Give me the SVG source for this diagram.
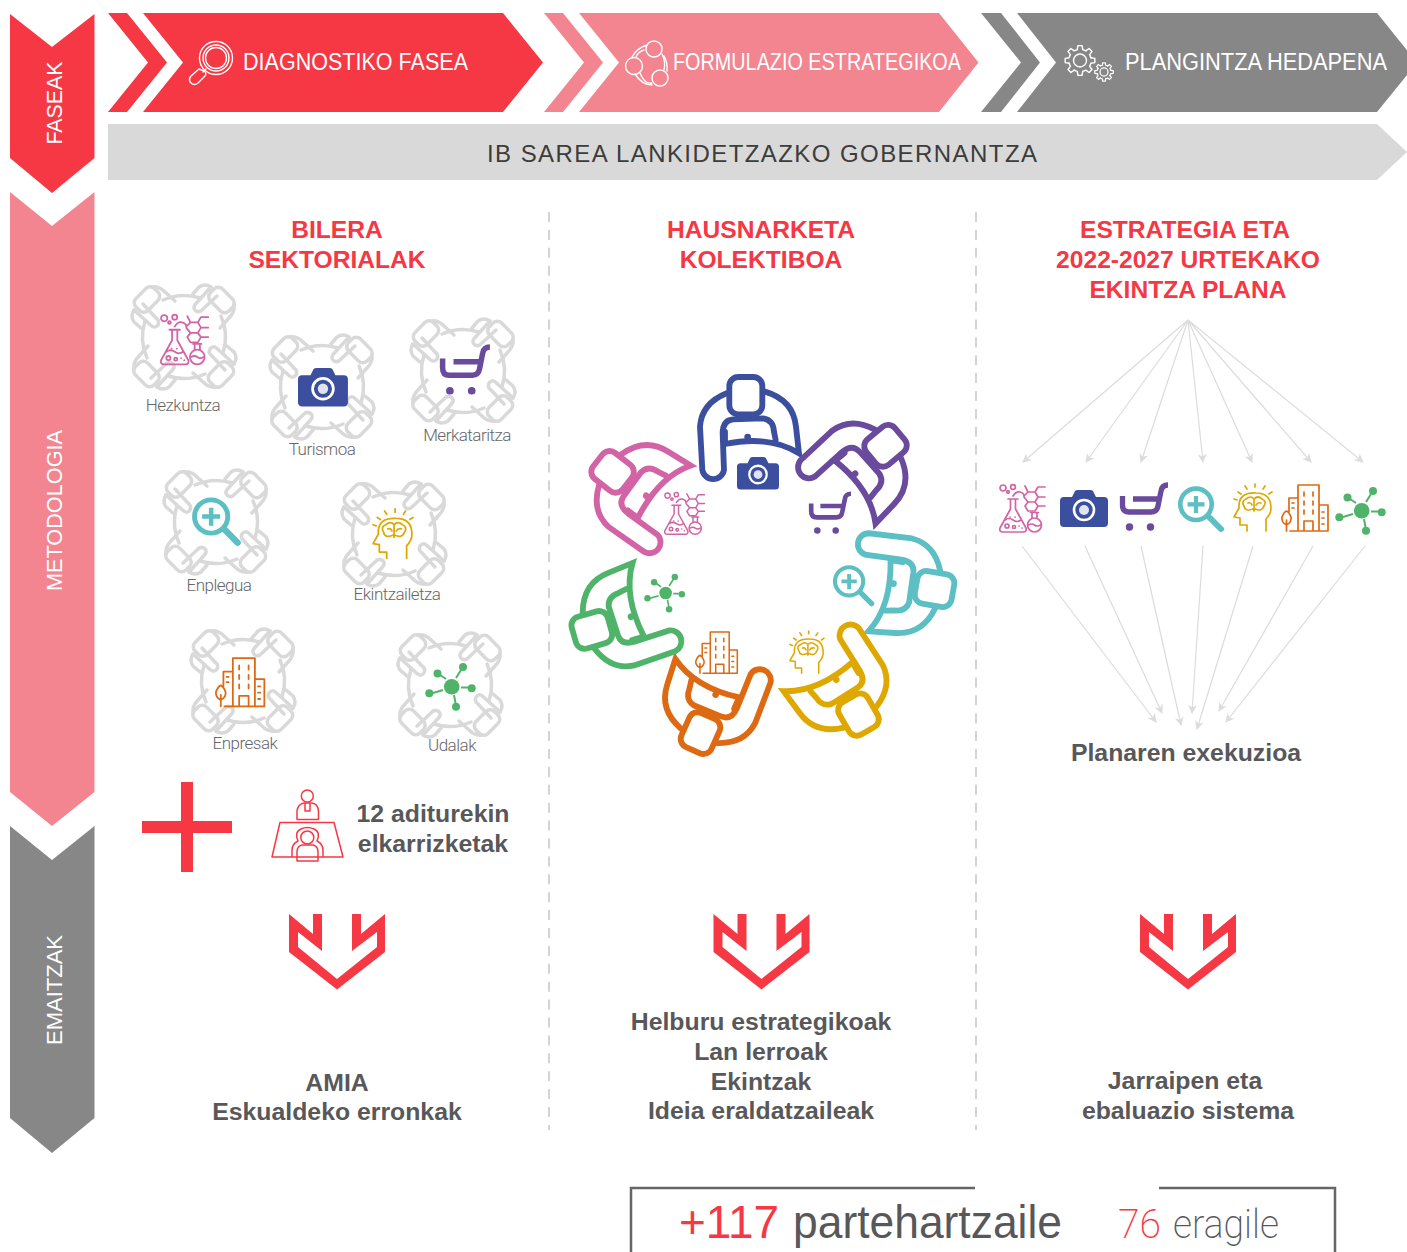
<svg xmlns="http://www.w3.org/2000/svg" xmlns:xlink="http://www.w3.org/1999/xlink" width="1407" height="1252" viewBox="0 0 1407 1252">
<style>
text{font-family:"Liberation Sans",Arial,sans-serif}
.ph{fill:#fff;font-size:23.5px}
.side{fill:#fff;font-size:22.5px;text-anchor:middle}
.hd{fill:#f63744;font-size:24.6px;font-weight:bold;text-anchor:middle}
.bd{fill:#58585a;font-size:24.8px;font-weight:bold;text-anchor:middle}
.lb{fill:#666;font-size:17px;letter-spacing:-.5px;text-anchor:middle;font-family:"Roboto","Liberation Sans",sans-serif;font-weight:300}
.th{fill:none;stroke:currentColor;stroke-width:1.7;stroke-linecap:round;stroke-linejoin:round}
.wl{fill:none;stroke:#fff;stroke-width:1.4;stroke-linejoin:round;stroke-linecap:round}
.kn{fill:none;stroke:#d9d9d9;stroke-width:3.5;stroke-linecap:round;stroke-linejoin:round}
.hl{fill:none;stroke:currentColor;stroke-width:17.5;stroke-linecap:round;stroke-linejoin:miter}
.fan{stroke:#dcdcdc;stroke-width:1.2;fill:none;marker-end:url(#ah)}
.dash{stroke:#d4d4d4;stroke-width:2;stroke-dasharray:10 7.9}
</style>
<defs>
<marker id="ah" viewBox="-9 -5 11 10" refX="0" refY="0" markerWidth="11" markerHeight="10" markerUnits="userSpaceOnUse" orient="auto"><path d="M-8,-4.5 L1,0 L-8,4.5 L-5.5,0z" fill="#dcdcdc"/></marker>
<g id="flask"><g class="th">
<path d="M9,15H19M11.5,15V25L1,44Q0,48 4,48H24Q28,48 27,44L16.5,25V15M6,36Q10,33 14,36T22,36"/>
<circle cx="8" cy="42" r="2"/><circle cx="15" cy="43" r="1.5"/><path d="M11,33h.1M16,33h.1M20,42h.1M23,44h.1"/>
<circle cx="35.5" cy="41" r="7"/><path d="M33,34V29M38,34V29M31.5,28.5H39.5M29.5,41Q33,39 35.5,41T41.5,41"/>
<circle cx="4" cy="4" r="3"/><circle cx="14" cy="3" r="2.4"/><circle cx="9" cy="8" r="1.3"/>
<path d="M14,12Q17,7 21,8T25,12L29,8H36L39,13L36,18H29L25,13M29,18L26,22L29,27H36L39,22L36,18M36,8L39,3H46M39,13H46M39,22H46M29,8L26,2"/>
</g></g>
<g id="camera"><path fill="currentColor" d="M4,7H12L15,1Q16,0 18,0H30Q32,0 33,1L36,7H44Q48,7 48,11V33Q48,37 44,37H4Q0,37 0,33V11Q0,7 4,7z"/><circle cx="24" cy="20" r="10" fill="none" stroke="#fff" stroke-width="2.6"/><circle cx="24" cy="20" r="5" fill="#dfe3f2"/></g>
<g id="cart"><path fill="none" stroke="currentColor" stroke-width="5.300" stroke-linecap="butt" d="M48,2Q42,2 41,8L38,23Q37,29 31,29H9Q2.500,29 2.500,22V13M13,16H40"/><circle cx="9.500" cy="44" r="3.700" fill="currentColor"/><circle cx="30.500" cy="44" r="3.700" fill="currentColor"/></g>
<g id="lens"><g fill="none" stroke="currentColor" stroke-linecap="round"><circle cx="19" cy="19.3" r="15.7" stroke-width="4.6"/><path stroke-width="4.2" stroke-linecap="butt" d="M19,11V28M10.5,19.4H27.5"/><path stroke-width="6" d="M31,31L44,44"/></g></g>
<g id="head"><g class="th"><path d="M14,47V41H7V34L1,33L6,24Q5,8 23,9Q38,9 38,24Q38,30 33,35V47"/>
<path d="M20,25Q12,28 11,22Q8,17 13,15Q18,11 21,15Q25,11 29,15Q34,17 31,22Q29,28 22,25M21,15V27M15,19Q18,18 19,21M28,19Q25,18 23,21"/>
<path d="M22,0V3M12,2L14,5M32,2L30,5M5,8L8,10M39,8L36,10M1,15L4,16"/></g></g>
<g id="building"><g class="th" stroke-width="1.8"><path d="M17,47V1H38V47M17,14H8V28M38,21H47V47H9M23,47V37H32V47"/><path d="M23,8V12M32,8V12M23,17V21M32,17V21M23,26V30M32,26V30M11,19h2M11,24h2M41,28h2M41,34h2M41,40h2"/><path d="M5.5,47V36M5.5,41Q0,38 1,33Q3,28 5.5,27Q8,28 10,33Q11,38 5.5,41z"/></g></g>
<g id="network"><g fill="currentColor"><circle cx="26.7" cy="24.7" r="7.8"/><circle cx="38" cy="5" r="4"/><circle cx="12.5" cy="11.5" r="4"/><circle cx="46.7" cy="26.3" r="4"/><circle cx="4.3" cy="31.3" r="4"/><circle cx="31" cy="44.7" r="4"/></g><path fill="none" stroke="currentColor" stroke-width="2" d="M31,16L36,8M21,17L15,13M36,25.5H43M18,28L8,31M29,33L30.5,41"/></g>
<g id="kc"><g class="kn">
<rect x="-50" y="-46" width="26" height="17" rx="6" transform="rotate(-45 -37 -37.500)"/>
<path d="M-50,-27L-33,-11.500Q-29,-8 -26,-12Q-24,-16 -28,-19L-41,-33"/>
<path d="M-32,-50Q-25,-51 -19,-45L-9,-36"/>
<path d="M-50,-27Q-54,-21 -50,-15L-43,-9"/>
<path d="M-21,-37Q-3,-45 16,-39"/>
</g></g>
<g id="knot"><use href="#kc"/><use href="#kc" transform="rotate(90)"/><use href="#kc" transform="rotate(180)"/><use href="#kc" transform="rotate(270)"/></g>
<g id="hand"><g class="hl"><path d="M470,70Q395,100 390,170L397,300A33,33 0 0 0 462,300L458,190Q458,150 490,148L580,145Q610,150 612,185L617,210"/><rect x="478" y="21" width="99" height="112" rx="27"/><path d="M585,65Q670,90 678,170L687,250Q600,195 465,222V185"/></g><circle cx="533" cy="201" r="10" fill="currentColor"/></g>
<polygon id="dbl" fill="#f63744" points="289,914 313,934 313,914 322,914 322,951 298,932 298,947 337,979 377,947 377,932 352,951 352,914 361,914 361,934 385,914 385,952 337,989.500 289,952"/>
<path id="tooth" d="M10.9,-2.700L14.850,-2.100V2.100L10.900,2.700A11.250,11.250 0 0 1 9.600,5.800"/>
<g id="gear"><use href="#tooth"/><use href="#tooth" transform="rotate(45)"/><use href="#tooth" transform="rotate(90)"/><use href="#tooth" transform="rotate(135)"/><use href="#tooth" transform="rotate(180)"/><use href="#tooth" transform="rotate(225)"/><use href="#tooth" transform="rotate(270)"/><use href="#tooth" transform="rotate(315)"/><circle r="6.500"/></g>
</defs>

<g id="phase-side">
<polygon fill="#f63744" points="10,14 52,47 94.500,14 94.500,158 52,193 10,158"/>
<text class="side" transform="translate(62,103) rotate(-90)" textLength="83" lengthAdjust="spacingAndGlyphs">FASEAK</text>
<polygon fill="#f2858f" points="10,192 52,226 94.500,192 94.500,792 52,826 10,792"/>
<text class="side" transform="translate(62,510.500) rotate(-90)" textLength="161" lengthAdjust="spacingAndGlyphs">METODOLOGIA</text>
<polygon fill="#878787" points="10,826 52,860 94.500,826 94.500,1118 52,1153 10,1118"/>
<text class="side" transform="translate(62,990) rotate(-90)" textLength="110" lengthAdjust="spacingAndGlyphs">EMAITZAK</text>
</g>

<g id="phase-diagnostiko">
<polygon fill="#f63744" points="108,13 127,13 167,62.500 127,112 108,112 148,62.500"/>
<polygon fill="#f63744" points="143,13 503,13 543,62.500 503,112 143,112 183,62.500"/>
<g class="wl"><circle cx="216" cy="58" r="16.500"/><circle cx="216" cy="58" r="13"/><circle cx="216" cy="58" r="10.500"/><path d="M206,69L203,72"/><path d="M199,69L191,76Q188,80 191,83Q194,86 198,83L205,76Q207,73 204,71Z"/></g>
<text class="ph" x="243" y="70" textLength="225" lengthAdjust="spacingAndGlyphs">DIAGNOSTIKO FASEA</text>
</g>
<g id="phase-formulazio">
<polygon fill="#f2858f" points="544,13 563,13 603,62.500 563,112 544,112 584,62.500"/>
<polygon fill="#f2858f" points="579,13 939,13 978.500,62.500 939,112 579,112 619,62.500"/>
<g class="wl"><circle cx="654" cy="49" r="8"/><circle cx="634" cy="66" r="8.500"/><circle cx="660" cy="78" r="8"/><path d="M647,45Q637,48 632,57M644,50Q638,52 636,57M640,73Q645,85 652,83M635,74Q642,85 652,85M664,56Q668,63 667,71M662,54Q666,62 664,70"/></g>
<text class="ph" x="673" y="70" textLength="288" lengthAdjust="spacingAndGlyphs">FORMULAZIO ESTRATEGIKOA</text>
</g>
<g id="phase-plangintza">
<polygon fill="#878787" points="981,13 1001,13 1040,62.500 1001,112 981,112 1021,62.500"/>
<polygon fill="#878787" points="1017,13 1377,13 1417,62.500 1377,112 1017,112 1056,62.500"/>
<use href="#gear" class="wl" transform="translate(1080,60.500)"/>
<use href="#gear" class="wl" transform="translate(1104,72) scale(.62)" style="stroke-width:2"/>
<text class="ph" x="1125" y="70" textLength="262" lengthAdjust="spacingAndGlyphs">PLANGINTZA HEDAPENA</text>
</g>
<g id="band">
<polygon fill="#d9d9d9" points="108,124 1377,124 1407,152 1377,180 108,180"/>
<text x="487" y="162" fill="#3c3c3b" font-size="24" textLength="550">IB SAREA LANKIDETZAZKO GOBERNANTZA</text>
</g>

<g id="dividers"><line class="dash" x1="549" y1="212" x2="549" y2="1130"/><line class="dash" x1="976" y1="212" x2="976" y2="1130"/></g>

<g id="col1-title"><text class="hd" x="337" y="238">BILERA</text><text class="hd" x="337" y="268">SEKTORIALAK</text></g>
<g id="col2-title"><text class="hd" x="761" y="238">HAUSNARKETA</text><text class="hd" x="761" y="268">KOLEKTIBOA</text></g>
<g id="col3-title"><text class="hd" x="1185" y="238">ESTRATEGIA ETA</text><text class="hd" x="1188" y="268">2022-2027 URTEKAKO</text><text class="hd" x="1188" y="298">EKINTZA PLANA</text></g>

<g id="sector-hezkuntza"><use href="#knot" transform="translate(184,337)"/><use href="#flask" color="#d264a6" transform="translate(160,314) scale(1.05)"/><text class="lb" x="183" y="411">Hezkuntza</text></g>
<g id="sector-turismoa"><use href="#knot" transform="translate(322,387)"/><use href="#camera" color="#3b4f9e" transform="translate(298,368) scale(1.04)"/><text class="lb" x="322" y="455">Turismoa</text></g>
<g id="sector-merkataritza"><use href="#knot" transform="translate(463,371)"/><use href="#cart" color="#6a4a9c" transform="translate(440,345) scale(1.04)"/><text class="lb" x="467" y="441">Merkataritza</text></g>
<g id="sector-enplegua"><use href="#knot" transform="translate(216,522)"/><use href="#lens" color="#5bbfc3" transform="translate(191,496) scale(1.06)"/><text class="lb" x="219" y="591">Enplegua</text></g>
<g id="sector-ekintzailetza"><use href="#knot" transform="translate(394,534)"/><use href="#head" color="#dfa800" transform="translate(372,509) scale(1.05)"/><text class="lb" x="397" y="600">Ekintzailetza</text></g>
<g id="sector-enpresak"><use href="#knot" transform="translate(243,681)"/><use href="#building" color="#dd6a13" transform="translate(215,657) scale(1.05)"/><text class="lb" x="245" y="749">Enpresak</text></g>
<g id="sector-udalak"><use href="#knot" transform="translate(450,685)"/><use href="#network" color="#4fb36a" transform="translate(425,662)"/><text class="lb" x="452" y="751">Udalak</text></g>

<g id="plus"><rect x="142" y="821" width="90" height="12" fill="#f63744"/><rect x="181" y="782" width="12" height="90" fill="#f63744"/></g>
<g id="interview"><g fill="none" stroke="#f63744" stroke-width="1.5" stroke-linejoin="round">
<circle cx="307.300" cy="796" r="6"/><path d="M297,819.500V811Q298,804 304,803H312Q318,804 318.500,811V819.500ZM305,803V811H310V803"/>
<path d="M280,822.500H334L343,857H272ZM297,857V852Q297,846 302,845H313Q318,846 318,852V857"/><path d="M292,857V850Q292,844 298,841Q294,832 301,829Q307,826 314,829Q321,832 317,841Q323,844 323,850V857"/><circle cx="307.300" cy="837.500" r="6.500"/>
<path d="M297,857V861H318V857"/></g></g>
<g id="interview-label"><text class="bd" x="433" y="822">12 aditurekin</text><text class="bd" x="433" y="852">elkarrizketak</text></g>

<g id="ring">
<g transform="translate(570,370) scale(.3333)">
<use href="#hand" color="#3b4f9e"/>
<use href="#hand" color="#6a4a9c" transform="translate(9,-6) rotate(50 565 595)"/>
<use href="#hand" color="#5bbfc3" transform="translate(12,9) rotate(100 565 595)"/>
<use href="#hand" color="#dfa800" transform="translate(9,9) rotate(150 565 595)"/>
<use href="#hand" color="#dd6a13" transform="translate(3,6) rotate(204 565 595)"/>
<use href="#hand" color="#4fb36a" transform="translate(-12,6) rotate(254 565 595)"/>
<use href="#hand" color="#d264a6" transform="translate(-6,0) rotate(308 565 595)"/>
</g>
<use href="#camera" color="#3b4f9e" transform="translate(737,457) scale(.875)"/>
<use href="#cart" color="#6a4a9c" transform="translate(809,492) scale(.875)"/>
<use href="#lens" color="#5bbfc3" transform="translate(832,564) scale(.9)"/>
<use href="#head" color="#dfa800" transform="translate(789,631) scale(.9)"/>
<use href="#building" color="#dd6a13" transform="translate(695,631) scale(.9)"/>
<use href="#network" color="#4fb36a" transform="translate(644,573) scale(.81)"/>
<use href="#flask" color="#d264a6" transform="translate(664,492) scale(.88)"/>
</g>

<g id="connectors">
<path class="fan" d="M1188,320L1023,462"/><path class="fan" d="M1188,320L1086,462"/><path class="fan" d="M1188,320L1141,462"/><path class="fan" d="M1188,320L1203,462"/><path class="fan" d="M1188,320L1252,462"/><path class="fan" d="M1188,320L1311,462"/><path class="fan" d="M1188,320L1363,462"/>
<path class="fan" d="M1022,546L1156,722"/><path class="fan" d="M1085,546L1162,713"/><path class="fan" d="M1141,546L1181,725"/><path class="fan" d="M1203,546L1192,713"/><path class="fan" d="M1253,546L1197,729"/><path class="fan" d="M1313,546L1219,711"/><path class="fan" d="M1365,546L1226,722"/>
</g>

<g id="axis-icons">
<use href="#flask" color="#d264a6" transform="translate(999,484)"/>
<use href="#camera" color="#3b4f9e" transform="translate(1060,490)"/>
<use href="#cart" color="#6a4a9c" transform="translate(1120,483)"/>
<use href="#lens" color="#5bbfc3" transform="translate(1177,485)"/>
<use href="#head" color="#dfa800" transform="translate(1233,484)"/>
<use href="#building" color="#dd6a13" transform="translate(1281,484)"/>
<use href="#network" color="#4fb36a" transform="translate(1335,486)"/>
</g>
<g id="exec-label"><text class="bd" x="1186" y="761">Planaren exekuzioa</text></g>

<g id="results-arrows"><use href="#dbl"/><use href="#dbl" transform="translate(424.500,0)"/><use href="#dbl" transform="translate(851,0)"/></g>
<g id="result-1"><text class="bd" x="337" y="1091">AMIA</text><text class="bd" x="337" y="1120">Eskualdeko erronkak</text></g>
<g id="result-2"><text class="bd" x="761" y="1030">Helburu estrategikoak</text><text class="bd" x="761" y="1060">Lan lerroak</text><text class="bd" x="761" y="1090">Ekintzak</text><text class="bd" x="761" y="1119">Ideia eraldatzaileak</text></g>
<g id="result-3"><text class="bd" x="1185" y="1089">Jarraipen eta</text><text class="bd" x="1188" y="1119">ebaluazio sistema</text></g>

<g id="totals">
<path fill="none" stroke="#666" stroke-width="2.500" d="M631,1252V1188H975M1159,1188H1335V1252"/>
<text x="679" y="1238" font-size="46" fill="#f63744" textLength="100" lengthAdjust="spacingAndGlyphs">+117</text>
<text x="793" y="1238" font-size="46" fill="#58585a" textLength="269" lengthAdjust="spacingAndGlyphs">partehartzaile</text>
<text x="1118" y="1238" font-size="40" fill="#f63744" textLength="43" lengthAdjust="spacingAndGlyphs" style="font-family:Roboto,'Liberation Sans',sans-serif;font-weight:200">76</text>
<text x="1173" y="1238" font-size="40" fill="#58585a" textLength="106" lengthAdjust="spacingAndGlyphs" style="font-family:Roboto,'Liberation Sans',sans-serif;font-weight:200">eragile</text>
</g>
</svg>
